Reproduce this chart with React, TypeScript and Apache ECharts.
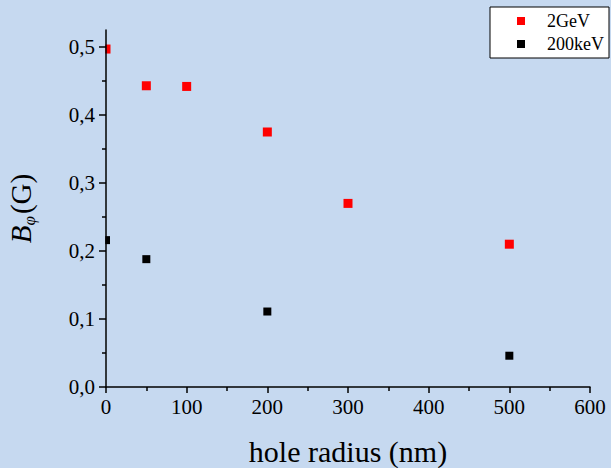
import React, { useEffect, useRef } from "react";
import * as echarts from "echarts";

const seriesNames = ["2GeV", "200keV"];
const gevX = [0, 50, 100, 200, 300, 500];
const gevY = [0.497, 0.443, 0.442, 0.375, 0.27, 0.21];
const kevX = [0, 50, 200, 500];
const kevY = [0.216, 0.188, 0.111, 0.046];
const yMajor = [0, 0.1, 0.2, 0.3, 0.4, 0.5];
const yMinor = [0.05, 0.15, 0.25, 0.35, 0.45];

const FONT = "'Liberation Serif', 'Times New Roman', serif";
const BG = "#c6d9f0";

export default function App() {
  const ref = useRef<HTMLDivElement>(null);
  useEffect(() => {
    document.body.style.margin = "0";
    const chart = echarts.init(ref.current!, null, { renderer: "svg" });
    const axisLine = { show: true, lineStyle: { color: "#000", width: 1.5 } };
    chart.setOption({
      animation: false,
      backgroundColor: BG,
      grid: { left: 106, right: 21, top: 30, bottom: 81, outerBoundsMode: "none", containLabel: false },
      graphic: [
        {
          type: "rect",
          z: 5,
          silent: true,
          shape: { x: 60, y: 25, width: 45.25, height: 365 },
          style: { fill: BG },
        },
      ],
      legend: {
        orient: "vertical",
        right: 2,
        top: 7,
        z: 20,
        backgroundColor: "#fff",
        borderColor: "#000",
        borderWidth: 1,
        borderRadius: 0,
        padding: [5, 5, 5, 27],
        itemGap: 5,
        itemWidth: 8,
        itemHeight: 8,
        icon: "rect",
        textStyle: { fontFamily: FONT, fontSize: 18, color: "#000", padding: [0, 0, 0, 17] },
        data: seriesNames,
      },
      xAxis: {
        type: "value",
        min: 0,
        max: 600,
        interval: 100,
        z: 10,
        axisLine,
        axisTick: { show: true, inside: false, length: 6, lineStyle: { color: "#000", width: 1.5 } },
        minorTick: { show: true, splitNumber: 2, length: 4, lineStyle: { color: "#000", width: 1.5 } },
        splitLine: { show: false },
        axisLabel: { fontFamily: FONT, fontSize: 21, color: "#000", margin: 9 },
        name: "hole radius (nm)",
        nameLocation: "middle",
        nameGap: 49,
        nameTextStyle: { fontFamily: FONT, fontSize: 30, color: "#000" },
      },
      yAxis: [
        {
          type: "value",
          min: 0,
          max: 0.525,
          interval: 0.1,
          z: 10,
          axisLine,
          axisTick: { show: true, length: 7, customValues: yMajor, lineStyle: { color: "#000", width: 1.5 } },
          splitLine: { show: false },
          axisLabel: {
            customValues: yMajor,
            fontFamily: FONT,
            fontSize: 21,
            color: "#000",
            margin: 11,
            formatter: (v: number) => v.toFixed(1).replace(".", ","),
          },
          name: "{b|B}{s|φ}{n|(G)}",
          nameLocation: "middle",
          nameGap: 68,
          nameRotate: 90,
          nameTextStyle: {
            fontFamily: FONT,
            color: "#000",
            rich: {
              b: { fontFamily: FONT, fontSize: 29, fontStyle: "italic", color: "#000" },
              s: { fontFamily: FONT, fontSize: 17, fontStyle: "italic", color: "#000", padding: [18, 2, 0, 0] },
              n: { fontFamily: FONT, fontSize: 29, color: "#000" },
            },
          },
        },
        {
          type: "value",
          min: 0,
          max: 0.525,
          position: "left",
          z: 10,
          axisLine: { show: false },
          axisTick: { show: true, length: 4, customValues: yMinor, lineStyle: { color: "#000", width: 1.5 } },
          axisLabel: { show: false },
          splitLine: { show: false },
        },
      ],
      series: [
        {
          name: seriesNames[0],
          type: "scatter",
          symbol: "rect",
          symbolSize: 9,
          z: 2,
          itemStyle: { color: "#ff0000", opacity: 1 },
          data: gevX.map((x, i) => [x, gevY[i]]),
        },
        {
          name: seriesNames[1],
          type: "scatter",
          symbol: "rect",
          symbolSize: 8,
          z: 2,
          itemStyle: { color: "#000000", opacity: 1 },
          data: kevX.map((x, i) => [x, kevY[i]]),
        },
      ],
    });
    return () => chart.dispose();
  }, []);
  return <div ref={ref} style={{ width: 611, height: 468 }} />;
}
